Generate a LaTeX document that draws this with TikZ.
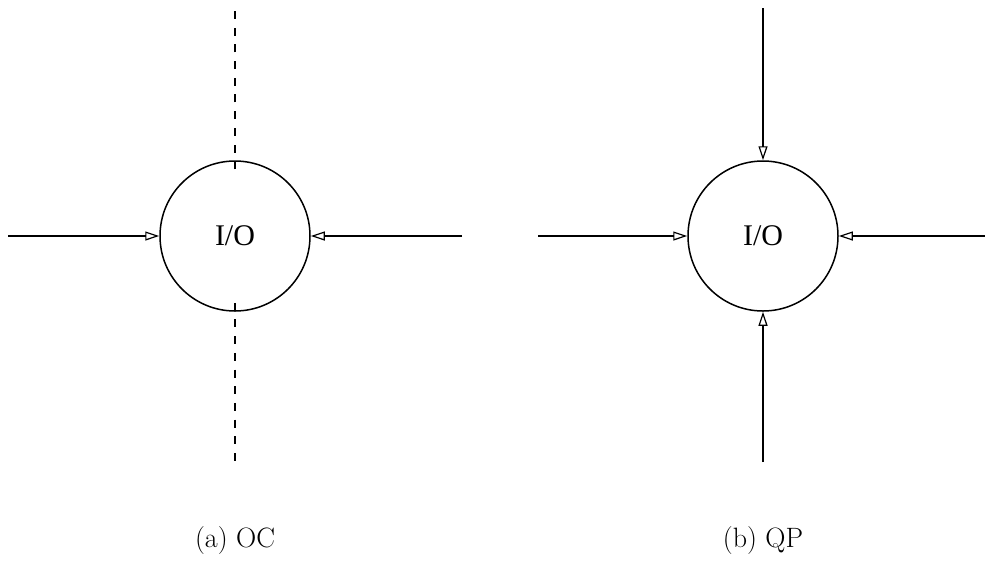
\documentclass[tikz,border=0pt]{standalone}
\usepackage{fontspec}
\newfontfamily\iofont{Liberation Serif}
\usetikzlibrary{arrows.meta}
\begin{document}
\begin{tikzpicture}[x=1pt,y=-1pt,
  proc/.style={circle,draw,line width=1.5pt,minimum size=150pt,inner sep=0pt,font=\iofont\fontsize{30}{36}\selectfont},
  flow/.style={line width=1.2pt,-{Triangle[open,length=14pt,width=9pt,line width=1.2pt]}},
  dashline/.style={line width=1.2pt,dash pattern=on 8pt off 8.7pt},
  captext/.style={font=\fontsize{28}{34}\selectfont}]
\useasboundingbox (0,0) rectangle (985,563);
% (a) OC
\node[proc] (a) at (235,236) {I/O};
\coordinate (aL) at (8,236);
\coordinate (aR) at (462,236);
\coordinate (aT) at (235,8);
\coordinate (aB) at (235,463);
\draw[flow] (aL) -- (a.west);
\draw[flow] (aR) -- (a.east);
\draw[dashline] ([yshift=-9pt]a.north) -- (aT);
\draw[dashline] ([yshift=9pt]a.south) -- (aB);
\node[captext] (capa) at (235,541) {(a) OC};
% (b) QP
\node[proc] (b) at (763,236) {I/O};
\coordinate (bL) at (538,236);
\coordinate (bR) at (985,236);
\coordinate (bT) at (763,8);
\coordinate (bB) at (763,462);
\draw[flow] (bL) -- (b.west);
\draw[flow] (bR) -- (b.east);
\draw[flow] (bT) -- (b.north);
\draw[flow] (bB) -- (b.south);
\node[captext] (capb) at (763,541) {(b) QP};
\end{tikzpicture}
\end{document}
